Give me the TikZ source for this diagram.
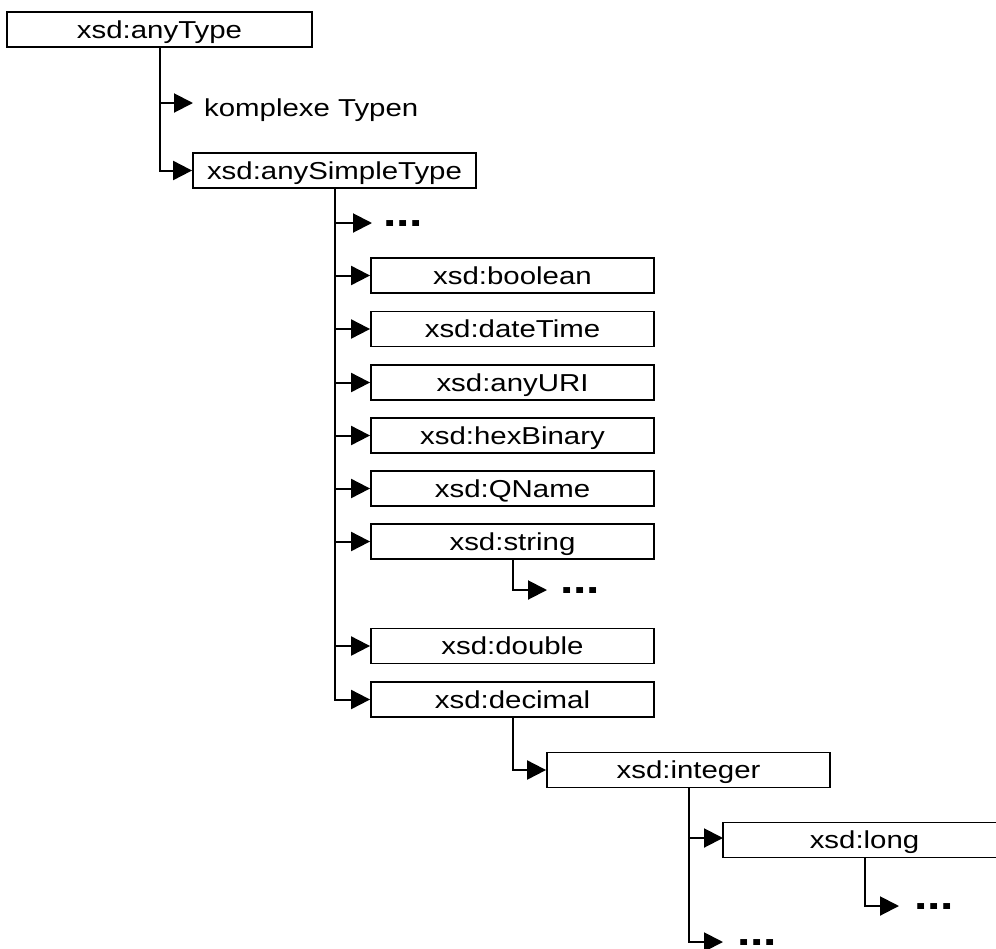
\documentclass[tikz,border=0pt]{standalone}
\usepackage{fontspec}
\setmainfont{Liberation Sans}[FakeStretch=1.2]
\usetikzlibrary{arrows.meta}

\tikzset{
  typebox/.style={draw, line width=1.8pt, minimum width=283pt, minimum height=35pt,
    inner sep=0pt, text height=17.5pt, text depth=0pt,
    font=\fontsize{24.5}{28}\selectfont},
  plain/.style={inner sep=0pt, anchor=base west, font=\fontsize{24.5}{28}\selectfont},
  more/.style={inner sep=0pt, anchor=base west, text depth=0pt,
    font=\fontsize{40}{44}\selectfont\bfseries},
  arr/.style={line width=2pt, -{Triangle[length=19pt,width=19pt]}},
}

\begin{document}
\begin{tikzpicture}[x=1pt,y=-1pt]
  \useasboundingbox (0,0) rectangle (996,948);
  \clip (0,0) rectangle (996,948);

  % root
  \node[typebox, minimum width=305pt] (anytype) at (159.5,29.5) {xsd:anyType};
  \coordinate (tkomplex) at (193,103);
  \node[plain] (komplex) at (204,116) {komplexe Typen};
  \node[typebox] (simple) at (334.5,170.5) {xsd:anySimpleType};

  \draw[arr] (anytype.south) |- (tkomplex);
  \draw[arr] (anytype.south) |- (simple.west);

  % simple types
  \coordinate (tdots) at (372,223);
  \node[more] (dots) at (383,226.5) {...};
  \node[typebox] (boolean)  at (512.5,275.5) {xsd:boolean};
  \node[typebox] (datetime) at (512.5,329)   {xsd:dateTime};
  \node[typebox] (anyuri)   at (512.5,382.5) {xsd:anyURI};
  \node[typebox] (hexbin)   at (512.5,435.5) {xsd:hexBinary};
  \node[typebox] (qname)    at (512.5,488.5) {xsd:QName};
  \node[typebox] (string)   at (512.5,541.5) {xsd:string};
  \node[typebox] (double)   at (512.5,646)   {xsd:double};
  \node[typebox] (decimal)  at (512.5,699.5) {xsd:decimal};

  \draw[arr] (simple.south) |- (tdots);
  \foreach \n in {boolean,datetime,anyuri,hexbin,qname,string,double,decimal}
    \draw[arr] (simple.south) |- (\n.west);

  % below xsd:string
  \coordinate (tstring) at (547,590);
  \node[more] (sdots) at (560,593.5) {...};
  \draw[arr] (string.south) |- (tstring);

  % numeric branch
  \node[typebox] (integer) at (688.5,770) {xsd:integer};
  \draw[arr] (decimal.south) |- (integer.west);

  \node[typebox] (long) at (864.5,840) {xsd:long};
  \coordinate (tlong0) at (723,838);
  \draw[arr] (integer.south) |- (tlong0);

  \coordinate (tlong) at (899,906);
  \node[more] (ldots) at (914,909.5) {...};
  \draw[arr] (long.south) |- (tlong);

  \coordinate (tint) at (723,942);
  \node[more] (idots) at (737,945) {...};
  \draw[arr] (integer.south) |- (tint);
\end{tikzpicture}
\end{document}
